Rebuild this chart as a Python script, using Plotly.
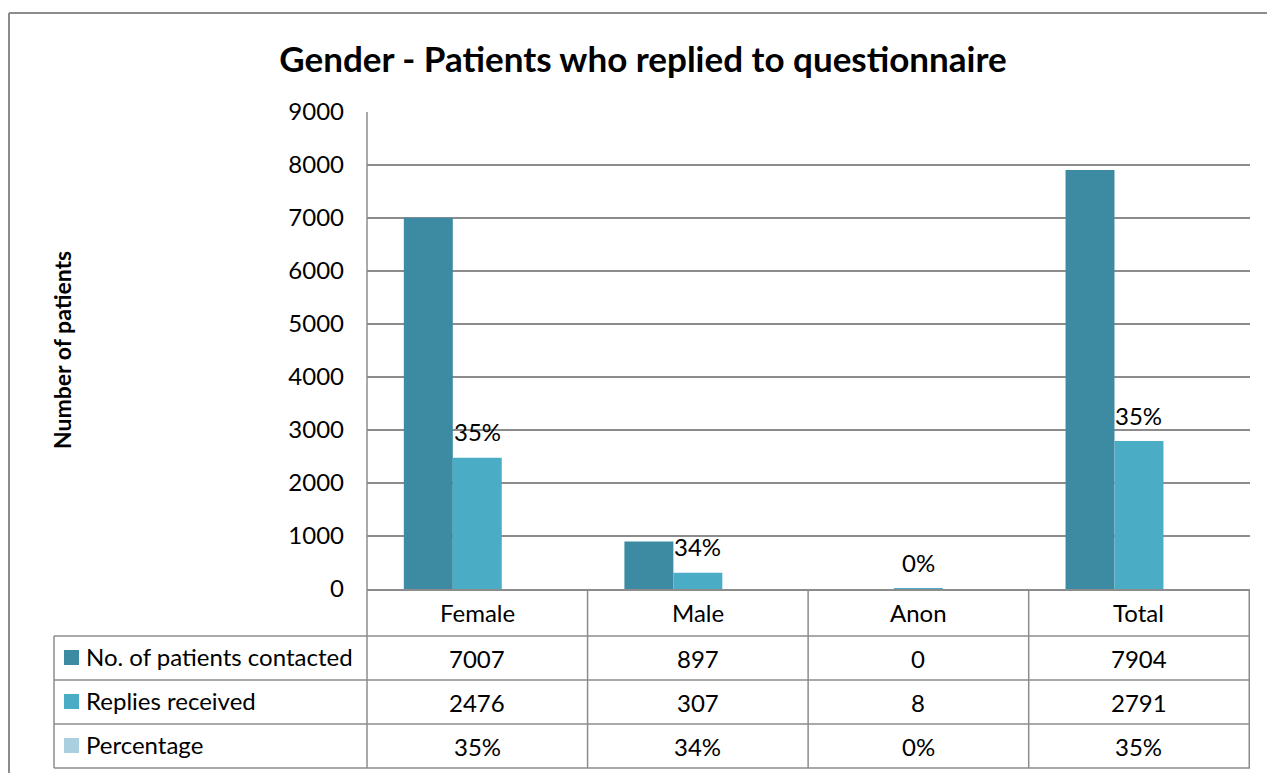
import plotly.graph_objects as go

# Data
categories = ["Female", "Male", "Anon", "Total"]
contacted = [7007, 897, 0, 7904]
replies = [2476, 307, 8, 2791]
percentage = [0.35, 0.34, 0.0, 0.35]
series_names = ["No. of patients contacted", "Replies received", "Percentage"]
y_ticks = [0, 1000, 2000, 3000, 4000, 5000, 6000, 7000, 8000, 9000]

colors = ["#3c8ba3", "#4bacc6", "#aacfdf"]
font_family = "Lato, 'Open Sans', sans-serif"
grid_color = "#8c8c8c"
text_size = 24

W, H = 1267, 773
L, R, T, B = 367, 17, 112, 184
plot_h = H - T - B
plot_w = W - L - R


def py(pixel_y):
    # pixel row -> paper y
    return (H - B - pixel_y) / plot_h


def px(pixel_x):
    return (pixel_x - L) / plot_w


def txt_font(size=text_size):
    return {"size": size, "color": "#000", "family": font_family}


fig = go.Figure()

fig.add_trace(go.Bar(x=categories, y=contacted, name=series_names[0],
                     marker={"color": colors[0], "line": {"width": 0}}))
fig.add_trace(go.Bar(x=categories, y=replies, name=series_names[1],
                     marker={"color": colors[1], "line": {"width": 0}}))
# percentage series sits on the count axis, so its bars are effectively invisible
fig.add_trace(go.Bar(x=categories, y=percentage, name=series_names[2],
                     marker={"color": colors[2], "line": {"width": 0}, "opacity": 0}))

shapes = []
annotations = []

# percentage labels above the replies bars
for cat, val, pct in zip(categories, replies, percentage):
    annotations.append(dict(x=cat, y=val, xref="x", yref="y", text=f"{pct:.0%}",
                            showarrow=False, yshift=26, yanchor="middle",
                            font=txt_font()))

# data table below the chart
row_lines = [636, 680, 724, 768]
row_centers = [658, 702, 746]
header_center = 612
line_style = {"color": grid_color, "width": 1.5}

for yy in row_lines:
    shapes.append(dict(type="line", xref="paper", yref="paper", x0=px(54), x1=1,
                       y0=py(yy), y1=py(yy), line=line_style))
shapes.append(dict(type="line", xref="paper", yref="paper", x0=px(54), x1=px(54),
                   y0=py(636), y1=py(768), line=line_style))
shapes.append(dict(type="line", xref="paper", yref="paper", x0=0, x1=0,
                   y0=py(768), y1=1, line=line_style))
for i in range(len(categories)):
    shapes.append(dict(type="line", xref="x", yref="paper", x0=i + 0.5, x1=i + 0.5,
                       y0=py(768), y1=0, line=line_style))
    annotations.append(dict(x=categories[i], y=py(header_center), xref="x", yref="paper",
                            text=categories[i], showarrow=False, yanchor="middle",
                            font=txt_font()))

table_rows = [
    [str(v) for v in contacted],
    [str(v) for v in replies],
    [f"{p:.0%}" for p in percentage],
]
for r, (name, vals) in enumerate(zip(series_names, table_rows)):
    yc = row_centers[r]
    shapes.append(dict(type="rect", xref="paper", yref="paper",
                       x0=px(64), x1=px(79), y0=py(yc + 7), y1=py(yc - 8),
                       fillcolor=colors[r], line={"width": 0}))
    annotations.append(dict(x=px(84), y=py(yc - 2), xref="paper", yref="paper", text=name,
                            showarrow=False, xanchor="left", yanchor="middle",
                            font=txt_font()))
    for cat, v in zip(categories, vals):
        annotations.append(dict(x=cat, y=py(yc), xref="x", yref="paper", text=v,
                                showarrow=False, yanchor="middle", font=txt_font()))

# outer chart border
border = {"color": "#8c8c8c", "width": 2}
shapes.append(dict(type="line", xref="paper", yref="paper", x0=px(9), x1=px(1275),
                   y0=py(13), y1=py(13), line=border))
shapes.append(dict(type="line", xref="paper", yref="paper", x0=px(9), x1=px(9),
                   y0=py(13), y1=py(790), line=border))

# y-axis title
annotations.append(dict(x=px(62), y=py(350), xref="paper", yref="paper",
                        text="<b>Number of patients</b>", textangle=-90, showarrow=False,
                        xanchor="center", yanchor="middle", font=txt_font(23)))

fig.update_layout(
    title={
        "text": "<b>Gender - Patients who replied to questionnaire</b>",
        "x": 643 / W, "xanchor": "center", "xref": "container",
        "y": 1 - 60 / H, "yanchor": "middle", "yref": "container",
        "font": txt_font(35),
    },
    width=W, height=H,
    margin={"l": L, "r": R, "t": T, "b": B, "pad": 0},
    barmode="group",
    bargap=0.334,
    bargroupgap=0,
    showlegend=False,
    plot_bgcolor="white",
    paper_bgcolor="white",
    xaxis={
        "showticklabels": False,
        "showgrid": False,
        "showline": True,
        "linecolor": grid_color,
        "linewidth": 1.5,
        "ticks": "",
        "fixedrange": True,
    },
    yaxis={
        "range": [0, 9000],
        "tickvals": y_ticks,
        "showgrid": True,
        "gridcolor": grid_color,
        "gridwidth": 1.5,
        "zeroline": False,
        "showline": False,
        "ticks": "",
        "ticklabelstandoff": 22,
        "tickfont": txt_font(),
    },
    shapes=shapes,
    annotations=annotations,
)

# the page body has a default 8px margin; remove it so the figure fills the window
fig.write_html(
    "out.html",
    config={"displayModeBar": False},
    post_script="document.body.style.margin = '0';",
)
